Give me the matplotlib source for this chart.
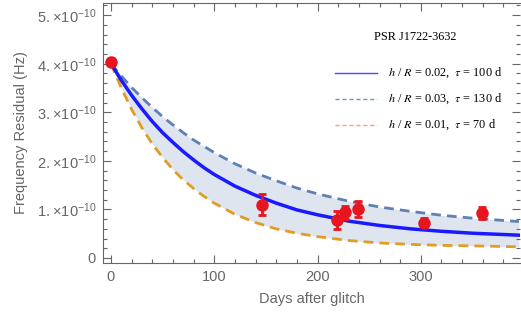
import matplotlib
matplotlib.use('Agg')
import matplotlib.pyplot as plt
import numpy as np
from matplotlib.ticker import MultipleLocator, FuncFormatter
from matplotlib.lines import Line2D

plt.rcParams['font.family'] = ['Liberation Sans', 'DejaVu Sans']
plt.rcParams['mathtext.fontset'] = 'custom'
plt.rcParams['mathtext.rm'] = 'Liberation Sans'
plt.rcParams['mathtext.it'] = 'Liberation Sans:italic'

# model curves (units of 1e-10 Hz)
t_model = [0, 10, 20, 30, 40, 50, 60, 70, 80, 90, 100, 120, 140, 160, 180,
           200, 230, 260, 290, 320, 350, 395]
fit_02 = [4.00, 3.66, 3.35, 3.07, 2.81, 2.58, 2.38, 2.19, 2.02, 1.86, 1.72,
          1.48, 1.29, 1.13, 0.99, 0.89, 0.76, 0.67, 0.60, 0.55, 0.51, 0.47]
fit_03 = [4.00, 3.75, 3.51, 3.30, 3.10, 2.91, 2.74, 2.58, 2.43, 2.30, 2.17,
          1.94, 1.75, 1.59, 1.44, 1.32, 1.17, 1.05, 0.96, 0.88, 0.82, 0.75]
fit_01 = [4.00, 3.50, 3.06, 2.68, 2.35, 2.07, 1.82, 1.61, 1.43, 1.27, 1.13,
          0.90, 0.73, 0.60, 0.51, 0.44, 0.36, 0.31, 0.28, 0.26, 0.25, 0.23]

# observed residuals
obs_days = [0, 146.5, 219, 227, 239.5, 303, 359]
obs_val = [4.03, 1.10, 0.78, 0.94, 1.01, 0.73, 0.92]
obs_err = [0.0, 0.22, 0.18, 0.13, 0.17, 0.10, 0.12]

labels = [r'$h$ / $R$ = 0.02,  $\tau$ = 100 d',
          r'$h$ / $R$ = 0.03,  $\tau$ = 130 d',
          r'$h$ / $R$ = 0.01,  $\tau$ = 70 d']

u = 1e-10
tm = np.array(t_model)
f02 = np.array(fit_02) * u
f03 = np.array(fit_03) * u
f01 = np.array(fit_01) * u

fig = plt.figure(figsize=(5.21, 3.23), dpi=100)
ax = fig.add_axes([103 / 521, 60 / 323, 417 / 521, 260 / 323])

gray = '#666666'
ax.fill_between(tm, f01, f03, color='#dfe5ef', lw=0, zorder=1)
ax.plot(tm, f01, color='#e19c24', lw=2.0, dashes=(3.5, 2.2), zorder=2)
ax.plot(tm, f03, color='#5e81b5', lw=2.0, dashes=(3.5, 2.2), zorder=3)
ax.plot(tm, f02, color='#1a1aff', lw=2.5, zorder=4)
ax.errorbar(obs_days, np.array(obs_val) * u, yerr=np.array(obs_err) * u,
            fmt='o', color='#e8141e', ms=8, elinewidth=2, capsize=3,
            capthick=2, zorder=5)

ax.set_xlim(-7.7, 396)
ax.set_ylim(-0.103e-10, 5.25e-10)

ax.xaxis.set_major_locator(MultipleLocator(100))
ax.xaxis.set_minor_locator(MultipleLocator(20))
ax.yaxis.set_major_locator(MultipleLocator(1e-10))
ax.yaxis.set_minor_locator(MultipleLocator(0.2e-10))


def yfmt(v, pos):
    n = int(round(v / u))
    if n == 0:
        return '0'
    return r'$%d.\!\times\!10^{-10}$' % n


ax.yaxis.set_major_formatter(FuncFormatter(yfmt))
ax.tick_params(which='both', direction='in', top=True, right=True,
               colors=gray, labelcolor=gray, labelsize=10.5, width=0.8)
ax.tick_params(which='major', length=6, pad=5)
ax.tick_params(which='minor', length=3)
ax.tick_params(axis='x', pad=5)
for s in ax.spines.values():
    s.set_color(gray)
    s.set_linewidth(0.8)
ax.spines['right'].set_visible(False)

ax.set_xlabel('Days after glitch', color=gray, fontsize=10.5, labelpad=6)
ax.set_ylabel('Frequency Residual (Hz)', color=gray, fontsize=10.5,
              labelpad=6)

# legend, drawn by hand in figure pixels
fig.text(415 / 521, 1 - 37 / 323, 'PSR J1722-3632',
         family='Liberation Serif', fontsize=8.8, ha='center', va='center')
leg_cols = ['#4a4aff', '#5aa0e0', '#f7a070']
leg_dash = [None, (3, 2), (3, 2)]
rows = [73, 99, 125]
for lab, c, d, yy in zip(labels, leg_cols, leg_dash, rows):
    ln = Line2D([335 / 521, 377 / 521], [1 - yy / 323] * 2, color=c, lw=1,
                transform=fig.transFigure)
    if d:
        ln.set_dashes(d)
    fig.add_artist(ln)
    fig.text(388 / 521, 1 - yy / 323, lab, fontsize=8.8, va='center',
             family='Liberation Serif', math_fontfamily='stix')

fig.savefig('out.png', dpi=100)
